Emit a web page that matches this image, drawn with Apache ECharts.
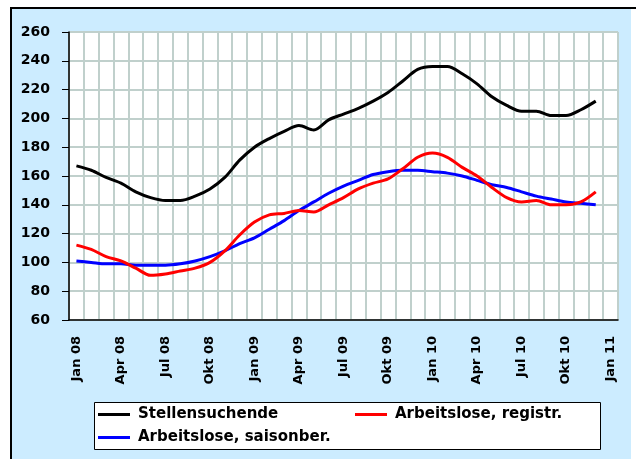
<!DOCTYPE html>
<html>
<head>
<meta charset="utf-8">
<script src="https://cdn.jsdelivr.net/npm/echarts@6.0.0/dist/echarts.min.js"></script>
<style>
  html, body { margin: 0; padding: 0; background: #fff; }
  #chart { width: 636px; height: 459px; }
</style>
</head>
<body>
<div id="chart"></div>
<script>
// months Jan 08 .. Jan 11 (labels shown every 3rd)
var monthNames = ['Jan', 'Feb', 'Mrz', 'Apr', 'Mai', 'Jun', 'Jul', 'Aug', 'Sep', 'Okt', 'Nov', 'Dez'];
var years = ['08', '09', '10', '11'];
var months = [];
for (var y = 0; y < years.length; y++) {
    for (var m = 0; m < 12; m++) {
        months.push(monthNames[m] + ' ' + years[y]);
        if (years[y] === '11') break;
    }
}

// Jan 08 .. Dez 10
var stellensuchende = [167, 164, 159, 155, 149, 145, 143, 143, 146, 151, 159, 171,
                       180, 186, 191, 195, 192, 199, 203, 207, 212, 218, 226, 234,
                       236, 236, 231, 224, 215, 209, 205, 205, 202, 202, 206, 212];
var arbRegistr = [112, 109, 104, 101, 96, 91, 92, 94, 96, 100, 108, 119,
                  128, 133, 134, 136, 135, 140, 145, 151, 155, 158, 165, 173,
                  176, 173, 166, 160, 152, 145, 142, 143, 140, 140, 142, 149];
var arbSaison = [101, 100, 99, 99, 98, 98, 98, 99, 101, 104, 108, 113,
                 117, 123, 129, 136, 142, 148, 153, 157, 161, 163, 164, 164,
                 163, 162, 160, 157, 154, 152, 149, 146, 144, 142, 141, 140];

var yTicks = { min: 60, max: 260, step: 20 };

var chart = echarts.init(document.getElementById('chart'));
var gridColor = '#c0d0cc';
var font = 'DejaVu Sans';

function legendAt(name, left, top) {
    return {
        data: [name],
        left: left, top: top,
        orient: 'horizontal',
        padding: 0,
        icon: 'rect',
        itemWidth: 32, itemHeight: 3,
        itemStyle: { borderWidth: 0 },
        textStyle: { fontFamily: font, fontWeight: 'bold', fontSize: 15, color: '#000', padding: [0, 0, 0, 3] },
        selectedMode: false,
        z: 10
    };
}

option = {
    backgroundColor: '#ccecff',
    animation: false,
    graphic: [
        { type: 'rect', shape: { x: 0, y: 0, width: 636, height: 7 }, style: { fill: '#fff' }, silent: true },
        { type: 'rect', shape: { x: 631, y: 0, width: 5, height: 459 }, style: { fill: '#fff' }, silent: true },
        { type: 'rect', shape: { x: 0, y: 0, width: 10, height: 459 }, style: { fill: '#fff' }, silent: true },
        { type: 'line', shape: { x1: 10, y1: 8, x2: 636, y2: 8 }, style: { stroke: '#000', lineWidth: 2 }, silent: true },
        { type: 'line', shape: { x1: 11, y1: 7, x2: 11, y2: 459 }, style: { stroke: '#000', lineWidth: 2 }, silent: true },
        { type: 'rect', shape: { x: 94.5, y: 402.5, width: 506, height: 47 },
          style: { fill: '#fff', stroke: '#000', lineWidth: 1 }, silent: true, z: 1 }
    ],
    legend: [
        legendAt('Stellensuchende', 98, 407),
        legendAt('Arbeitslose, registr.', 355, 407),
        legendAt('Arbeitslose, saisonber.', 98, 430)
    ],
    grid: {
        left: 69, right: 18, top: 32, bottom: 139,
        show: true, backgroundColor: '#fff', borderColor: '#444', borderWidth: 1
    },
    xAxis: {
        type: 'category',
        data: months,
        boundaryGap: true,
        axisLine: { lineStyle: { color: '#000', width: 1.5 } },
        axisTick: { interval: 0, length: 5, lineStyle: { color: '#000' } },
        splitLine: { show: true, interval: 0, lineStyle: { color: gridColor, width: 2 } },
        axisLabel: {
            interval: 2, rotate: 90, margin: 16,
            fontFamily: font, fontWeight: 'bold', fontSize: 13, color: '#000'
        }
    },
    yAxis: {
        type: 'value',
        min: yTicks.min, max: yTicks.max, interval: yTicks.step,
        axisLine: { show: true, lineStyle: { color: '#000', width: 1.5 } },
        axisTick: { show: true, length: 7, lineStyle: { color: '#000' } },
        splitLine: { lineStyle: { color: gridColor, width: 2 } },
        axisLabel: { margin: 19, fontFamily: font, fontWeight: 'bold', fontSize: 14, color: '#000' }
    },
    series: [
        { name: 'Stellensuchende', type: 'line', data: stellensuchende, color: '#000',
          symbol: 'none', smooth: 0.3, lineStyle: { width: 3 }, z: 5 },
        { name: 'Arbeitslose, registr.', type: 'line', data: arbRegistr, color: '#ff0000',
          symbol: 'none', smooth: 0.3, lineStyle: { width: 3 }, z: 4 },
        { name: 'Arbeitslose, saisonber.', type: 'line', data: arbSaison, color: '#0000ff',
          symbol: 'none', smooth: 0.3, lineStyle: { width: 3 }, z: 3 }
    ]
};
chart.setOption(option);
</script>
</body>
</html>
